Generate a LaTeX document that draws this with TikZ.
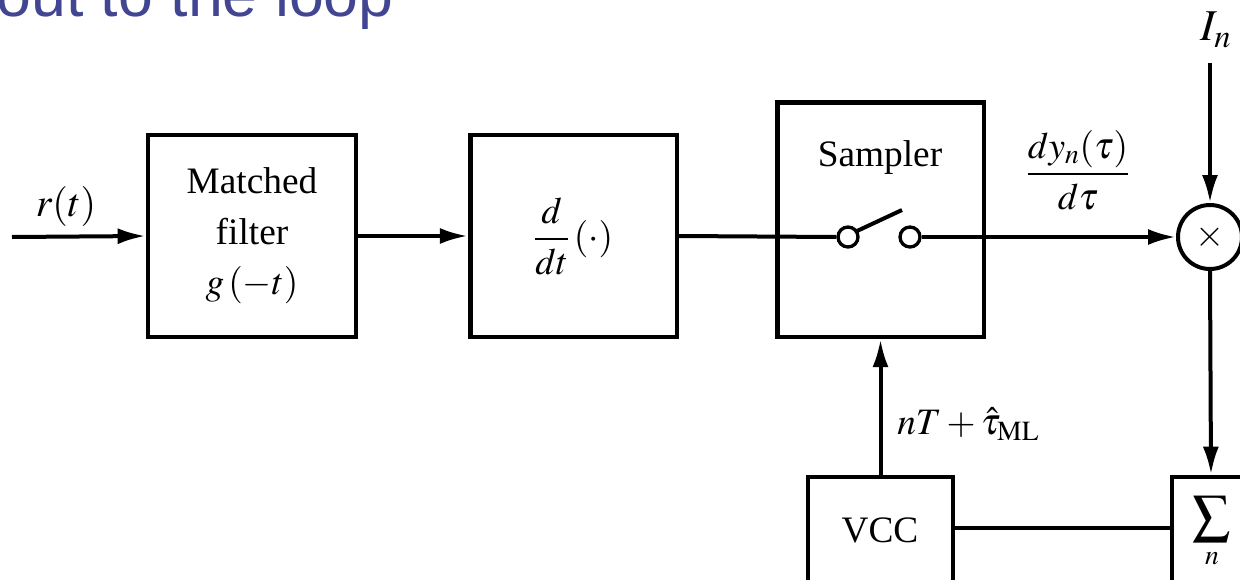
\documentclass[tikz,border=0pt]{standalone}
\usepackage{amsmath}
\usepackage{mathptmx}
\usepackage{fontspec}
\setmainfont{Liberation Serif}
\newfontfamily\titlefont{Liberation Sans}
\usetikzlibrary{arrows.meta}
\definecolor{titleblue}{RGB}{66,70,146}
\begin{document}
\begin{tikzpicture}[x=0.75pt,y=-0.75pt,
  every node/.style={font=\fontsize{28}{38}\selectfont},
  blk/.style={draw,line width=3.5pt,inner sep=0pt,align=center},
  lbl/.style={inner sep=0pt,align=center},
  wire/.style={line width=3pt},
  arr/.style={wire,-{Latex[length=21pt,width=12pt]}},
  term/.style={draw,circle,line width=2.5pt,minimum size=15pt,inner sep=0pt,fill=white}]
\useasboundingbox (0,0) rectangle (1240,579);
\clip (0,0) rectangle (1240,579);
% title
\node[anchor=base east,inner sep=0pt,text=titleblue,font=\titlefont\fontsize{47}{52}\selectfont] (title) at (394,16) {out to the loop};
% blocks
\node[blk,minimum width=156pt,minimum height=151.5pt] (mf) at (252,236) {Matched\\filter\\$g\,(-t)$};
\node[blk,minimum width=155pt,minimum height=151.5pt] (dd) at (573.5,236) {$\dfrac{d}{dt}\,(\cdot)$};
\node[blk,minimum width=155pt,minimum height=176pt] (smp) at (880.5,219.5) {};
\node[lbl] (smptxt) at (880,158) {Sampler};
\node[blk,minimum width=108.75pt,minimum height=84pt] (vcc) at (880.5,533) {};
\node[lbl] (vcctxt) at (880,530) {VCC};
\node[blk,minimum width=58.5pt,minimum height=84pt] (sum) at (1211,533) {};
\node[lbl] (sumtxt) at (1212,532) {$\displaystyle\sum_{n}$};
\node[draw,circle,line width=3pt,minimum size=48pt,inner sep=0pt] (mul) at (1210,237) {$\times$};
% switch
\node[term] (sw1) at (848,237) {};
\node[term] (sw2) at (910,237) {};
\coordinate (lev1) at (857,231);
\coordinate (lev2) at (902,210);
\draw[wire] (lev1) -- (lev2);
% input
\coordinate (rin) at (12,237);
\draw[arr] (rin) -- (mf.west);
\node[lbl,font=\fontsize{30}{36}\selectfont] (rlbl) at (66,206) {$r(t)$};
% connections
\draw[arr] (mf.east) -- (dd.west);
\draw[wire] (dd.east) -- (sw1.west);
\draw[arr] (sw2.east) -- (mul.west);
\node[lbl] (dylbl) at (1078,170) {$\dfrac{dy_n(\tau)}{d\tau}$};
\coordinate (iin) at (1210,63);
\draw[arr] (iin) -- (mul.north);
\node[lbl,font=\fontsize{33}{38}\selectfont] (ilbl) at (1216,30) {$I_n$};
\draw[arr] (mul.south) -- (sum.north);
\draw[wire] (sum.west |- 0,528) -- (vcc.east |- 0,528);
\draw[arr] (vcc.north) -- (smp.south);
\node[lbl,anchor=west] (tlbl) at (897,424) {$nT+\hat{\tau}_{\mathrm{ML}}$};
\end{tikzpicture}
\end{document}
